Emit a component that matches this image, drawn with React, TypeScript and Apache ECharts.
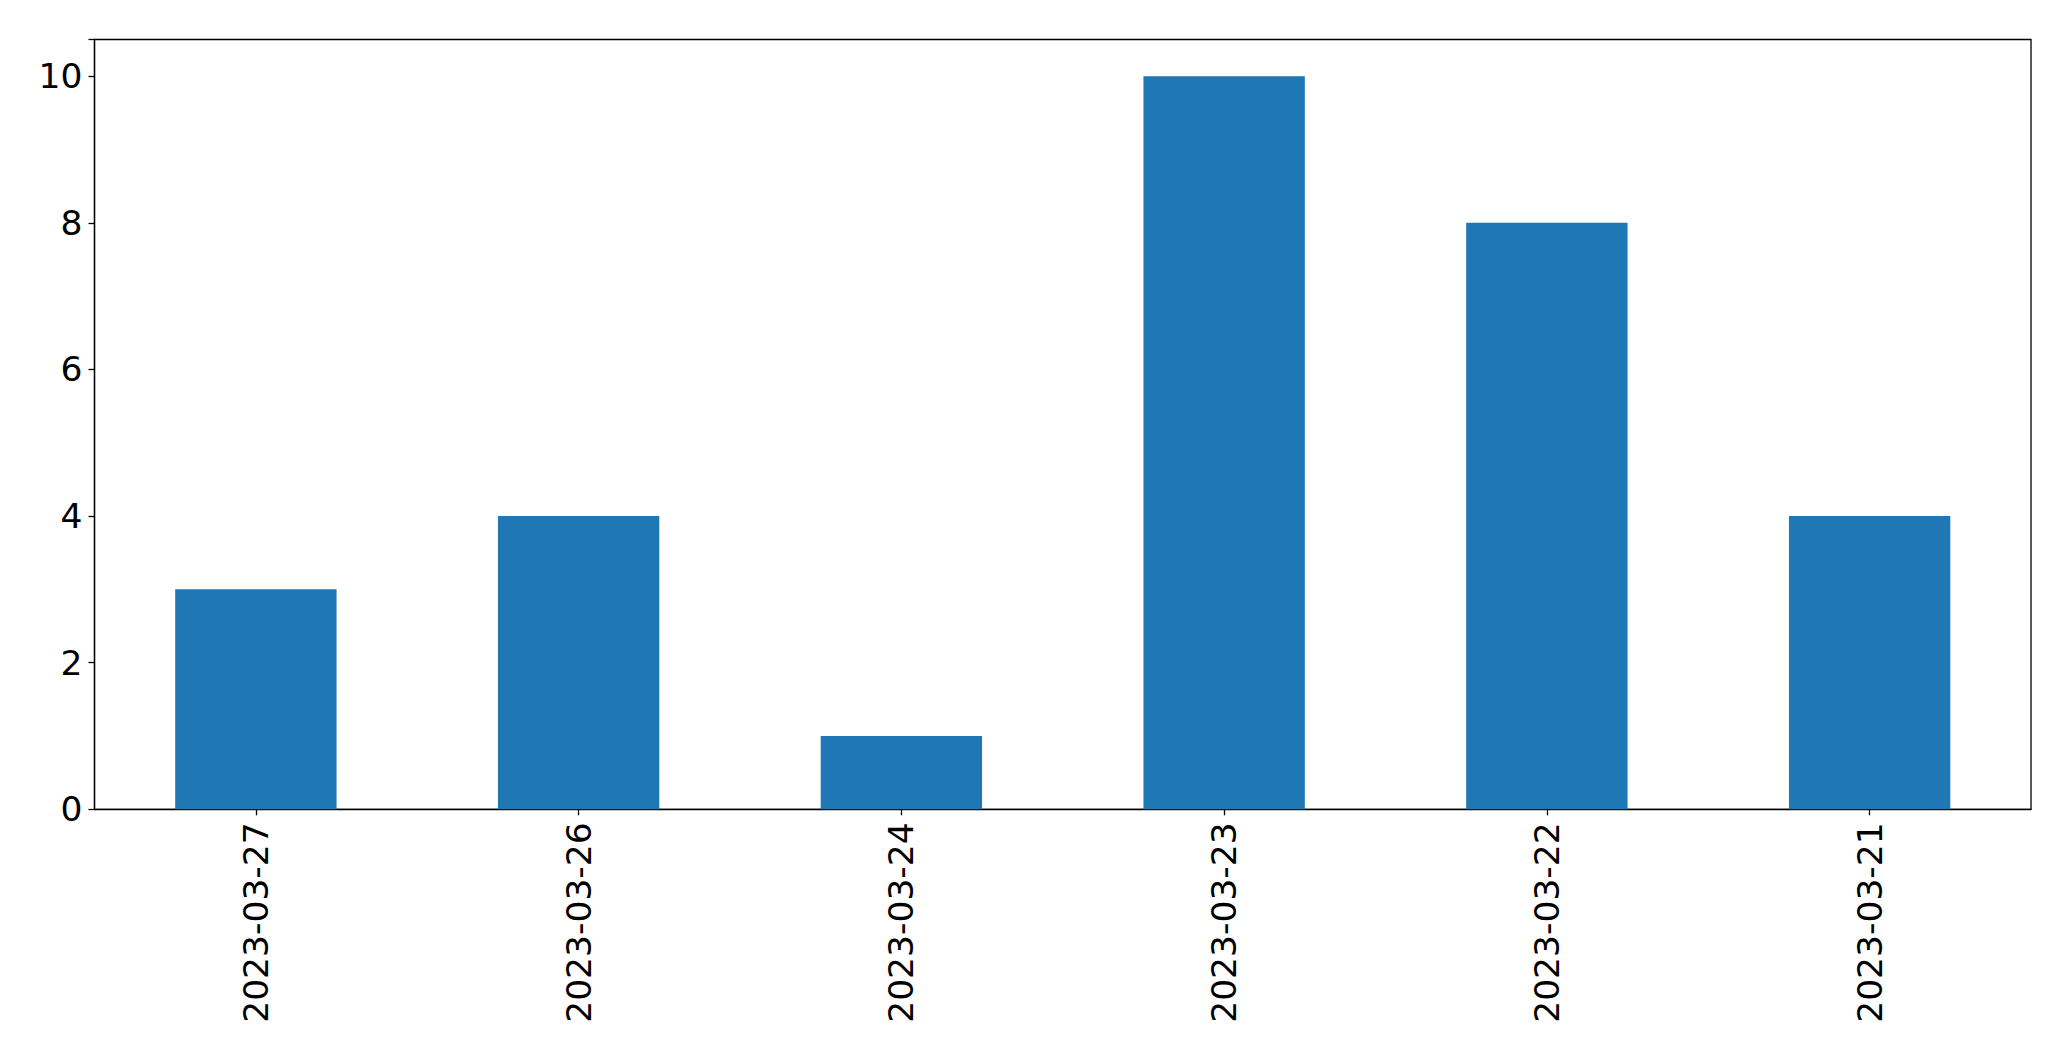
import React, { useEffect, useRef } from "react";
import * as echarts from "echarts";

const categories = ["2023-03-27", "2023-03-26", "2023-03-24", "2023-03-23", "2023-03-22", "2023-03-21"];
const values = [3, 4, 1, 10, 8, 4];
const yTicks = [0, 2, 4, 6, 8, 10];

export default function App() {
  const ref = useRef<HTMLDivElement>(null);
  useEffect(() => {
    if (!ref.current) return;
    const chart = echarts.init(ref.current, null, { renderer: "svg" });
    const font = "DejaVu Sans";
    chart.setOption({
      animation: false,
      backgroundColor: "#ffffff",
      grid: {
        left: 94.5,
        top: 39.5,
        right: 40,
        bottom: 251.7,
        show: true,
        borderColor: "#000",
        borderWidth: 1.3,
        containLabel: false,
      },
      xAxis: {
        type: "category",
        data: categories,
        boundaryGap: true,
        axisLine: { show: true, lineStyle: { color: "#000", width: 1.3 } },
        axisTick: { show: true, alignWithLabel: true, length: 6, lineStyle: { color: "#000", width: 1.3 } },
        axisLabel: { rotate: 90, fontSize: 34.5, fontFamily: font, color: "#000", margin: 13 },
        splitLine: { show: false },
      },
      yAxis: {
        type: "value",
        min: 0,
        max: 10.5,
        interval: 2,
        axisLine: { show: true, lineStyle: { color: "#000", width: 1.3 } },
        axisTick: { show: true, length: 6, lineStyle: { color: "#000", width: 1.3 } },
        axisLabel: {
          fontSize: 34.5,
          fontFamily: font,
          color: "#000",
          margin: 12,
          formatter: (v: number) => (yTicks.includes(v) ? String(v) : ""),
        },
        splitLine: { show: false },
      },
      series: [
        {
          type: "bar",
          data: values,
          barWidth: "50%",
          itemStyle: { color: "#1f77b4" },
        },
      ],
    });
    return () => chart.dispose();
  }, []);
  return <div ref={ref} style={{ position: "fixed", left: 0, top: 0, width: 2071, height: 1061 }} />;
}
